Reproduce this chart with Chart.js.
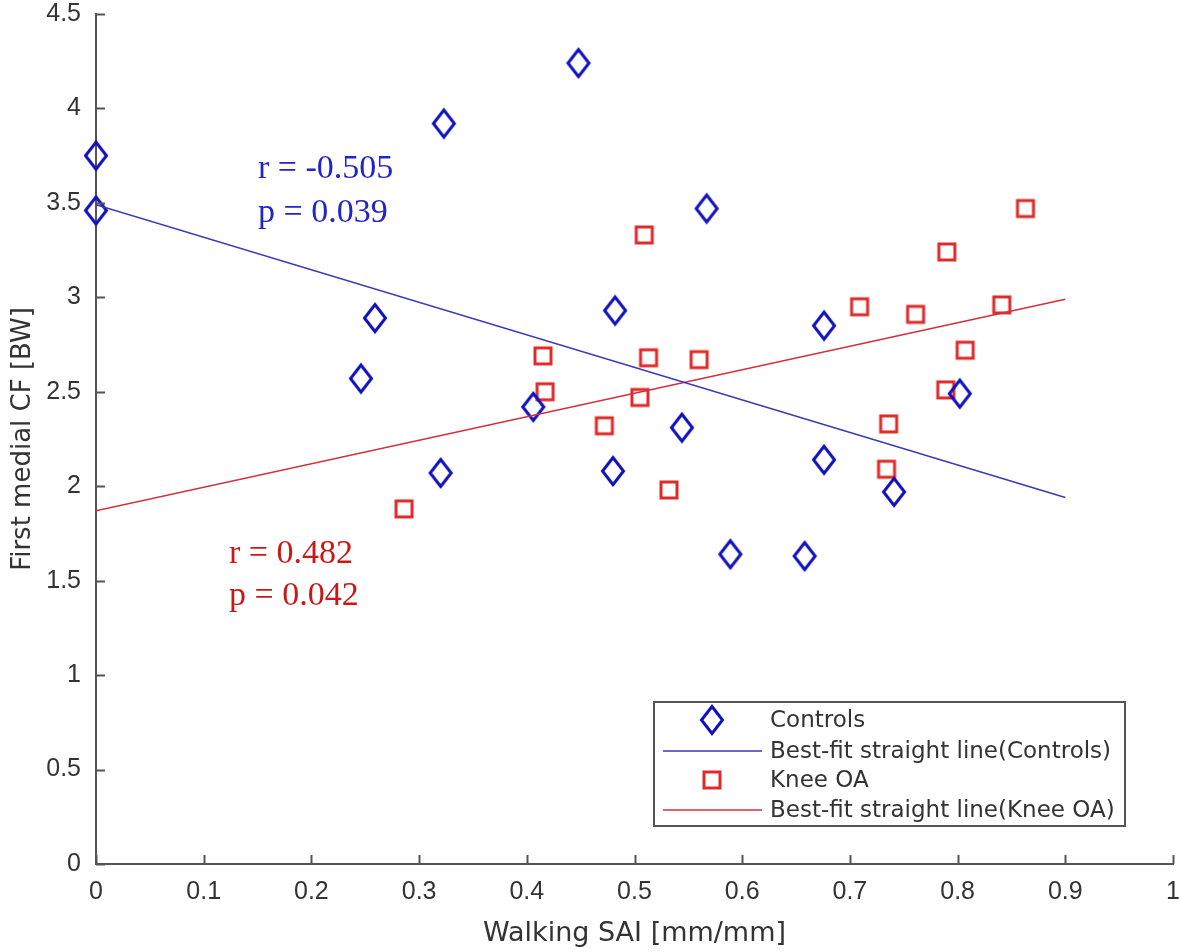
<!DOCTYPE html>
<html>
<head>
<meta charset="utf-8">
<script src="https://cdn.jsdelivr.net/npm/chart.js@4/dist/chart.umd.min.js"></script>
<style>
  html, body { margin: 0; padding: 0; background: #fff; }
  #wrap { width: 1180px; height: 952px; }
</style>
</head>
<body>
<div id="wrap"><canvas id="myChart" width="1180" height="952"></canvas></div>
<script>
// values
const controlsX = [0, 0, 0.448, 0.323, 0.567, 0.259, 0.246, 0.482, 0.406, 0.676, 0.802, 0.544, 0.320, 0.480, 0.676, 0.741, 0.589, 0.658];
const controlsY = [3.75, 3.46, 4.24, 3.92, 3.47, 2.89, 2.57, 2.93, 2.42, 2.85, 2.49, 2.31, 2.07, 2.08, 2.14, 1.97, 1.64, 1.63];
const kneeX = [0.415, 0.417, 0.472, 0.509, 0.863, 0.790, 0.709, 0.761, 0.841, 0.807, 0.513, 0.560, 0.505, 0.789, 0.736, 0.532, 0.734, 0.286];
const kneeY = [2.69, 2.50, 2.32, 3.33, 3.47, 3.24, 2.95, 2.91, 2.96, 2.72, 2.68, 2.67, 2.47, 2.51, 2.33, 1.98, 2.09, 1.88];
const fitX = [0, 0.9];
const fitControlsY = [3.49, 1.94];
const fitKneeY = [1.87, 2.99];
const xTicks = [0, 0.1, 0.2, 0.3, 0.4, 0.5, 0.6, 0.7, 0.8, 0.9, 1];
const yTicks = [0, 0.5, 1, 1.5, 2, 2.5, 3, 3.5, 4, 4.5];
const legendLabels = ['Controls', 'Best-fit straight line(Controls)', 'Knee OA', 'Best-fit straight line(Knee OA)'];

const blue = '#1010bc';
const red = '#e02a2a';
const textColor = '#333';
const uiFont = '"DejaVu Sans", "Noto Sans", sans-serif';
const tickFont = '"Liberation Sans", Arial, sans-serif';

function toPoints(xs, ys) {
    return xs.map((x, i) => ({ x: x, y: ys[i] }));
}

// marker pictures
function makeDiamond() {
    let c = document.createElement('canvas');
    c.width = 28; c.height = 34;
    let g = c.getContext('2d');
    g.strokeStyle = blue;
    g.lineWidth = 3;
    g.beginPath();
    g.moveTo(14, 3.5); g.lineTo(24.5, 17); g.lineTo(14, 30.5); g.lineTo(3.5, 17);
    g.closePath();
    g.stroke();
    return c;
}
function makeSquare() {
    let c = document.createElement('canvas');
    c.width = 22; c.height = 22;
    let g = c.getContext('2d');
    g.strokeStyle = red;
    g.lineWidth = 3;
    g.strokeRect(3, 3, 16, 16);
    return c;
}
const diamond = makeDiamond();
const square = makeSquare();

// inward tick marks, legend box and r/p notes
const extras = {
    id: 'extras',
    afterDraw(chart) {
        const ctx = chart.ctx;
        const xs = chart.scales.x, ys = chart.scales.y;
        const area = chart.chartArea;
        ctx.save();
        ctx.strokeStyle = '#555';
        ctx.lineWidth = 2;
        ctx.beginPath();
        yTicks.forEach(v => {
            let py = Math.round(ys.getPixelForValue(v)) + 0.5;
            ctx.moveTo(area.left, py); ctx.lineTo(area.left + 9, py);
        });
        xTicks.forEach(v => {
            let px = Math.round(xs.getPixelForValue(v)) + 0.5;
            ctx.moveTo(px, area.bottom); ctx.lineTo(px, area.bottom - 9);
        });
        ctx.stroke();

        // notes
        ctx.font = '34px "Liberation Serif", "Times New Roman", serif';
        ctx.textBaseline = 'alphabetic';
        ctx.textAlign = 'left';
        ctx.fillStyle = '#2323cc';
        ctx.fillText('r = -0.505', 258, 178);
        ctx.fillText('p = 0.039', 258, 222);
        ctx.fillStyle = '#c81818';
        ctx.fillText('r = 0.482', 229, 563);
        ctx.fillText('p = 0.042', 229, 605);

        // legend
        let bx = 654, by = 702, bw = 471, bh = 124;
        ctx.fillStyle = '#fff';
        ctx.fillRect(bx, by, bw, bh);
        ctx.strokeStyle = '#555';
        ctx.lineWidth = 2;
        ctx.strokeRect(bx, by, bw, bh);
        let rows = [720, 751, 780, 810];
        ctx.drawImage(diamond, 712 - diamond.width / 2, rows[0] - diamond.height / 2);
        ctx.drawImage(square, 712 - square.width / 2, rows[2] - square.height / 2);
        ctx.lineWidth = 1.5;
        ctx.strokeStyle = '#3a3ab8';
        ctx.beginPath(); ctx.moveTo(663, rows[1]); ctx.lineTo(762, rows[1]); ctx.stroke();
        ctx.strokeStyle = '#d0303c';
        ctx.beginPath(); ctx.moveTo(663, rows[3]); ctx.lineTo(762, rows[3]); ctx.stroke();
        ctx.font = '23px ' + uiFont;
        ctx.fillStyle = textColor;
        ctx.textBaseline = 'middle';
        legendLabels.forEach((t, i) => ctx.fillText(t, 770, rows[i] + 1));
        ctx.restore();
    }
};

let ctx = document.getElementById('myChart').getContext('2d');
let myChart = new Chart(ctx, {
    type: 'scatter',
    data: {
        datasets: [{
            label: legendLabels[0],
            data: toPoints(controlsX, controlsY),
            pointStyle: diamond,
            pointRadius: 14,
            clip: false,
            order: 2
        }, {
            label: legendLabels[1],
            type: 'line',
            data: toPoints(fitX, fitControlsY),
            borderColor: '#3a3ab8',
            borderWidth: 1.5,
            pointRadius: 0,
            fill: false,
            order: 1
        }, {
            label: legendLabels[2],
            data: toPoints(kneeX, kneeY),
            pointStyle: square,
            pointRadius: 11,
            clip: false,
            order: 2
        }, {
            label: legendLabels[3],
            type: 'line',
            data: toPoints(fitX, fitKneeY),
            borderColor: '#d0303c',
            borderWidth: 1.5,
            pointRadius: 0,
            fill: false,
            order: 1
        }]
    },
    options: {
        responsive: false,
        animation: false,
        events: [],
        layout: { autoPadding: false, padding: { left: 8, top: 14, right: 7, bottom: 0 } },
        plugins: {
            legend: { display: false },
            tooltip: { enabled: false }
        },
        scales: {
            x: {
                type: 'linear',
                min: 0,
                max: 1,
                afterBuildTicks: (s) => { s.ticks = xTicks.map(v => ({ value: v })); },
                afterFit: (s) => { s.height = 88; s.paddingLeft = 0; s.paddingRight = 0; },
                grid: { display: false, drawTicks: false },
                border: { display: true, color: '#555', width: 2 },
                ticks: {
                    color: textColor,
                    font: { family: tickFont, size: 25 },
                    padding: 13,
                    maxRotation: 0,
                    callback: (v) => String(Number(v.toFixed(1)))
                },
                title: {
                    display: true,
                    text: 'Walking SAI [mm/mm]',
                    color: textColor,
                    font: { family: uiFont, size: 27 },
                    padding: { top: 0, bottom: 2 }
                }
            },
            y: {
                type: 'linear',
                min: 0,
                max: 4.5,
                afterBuildTicks: (s) => { s.ticks = yTicks.map(v => ({ value: v })); },
                afterFit: (s) => { s.width = 88; s.paddingTop = 0; s.paddingBottom = 0; },
                grid: { display: false, drawTicks: false },
                border: { display: true, color: '#555', width: 2 },
                ticks: {
                    color: textColor,
                    font: { family: tickFont, size: 25 },
                    padding: 15,
                    callback: (v) => String(Number(v.toFixed(1)))
                },
                title: {
                    display: true,
                    text: 'First medial CF [BW]',
                    color: textColor,
                    font: { family: uiFont, size: 26 },
                    padding: { top: 0, bottom: 0 }
                }
            }
        }
    },
    plugins: [extras]
});
</script>
</body>
</html>
